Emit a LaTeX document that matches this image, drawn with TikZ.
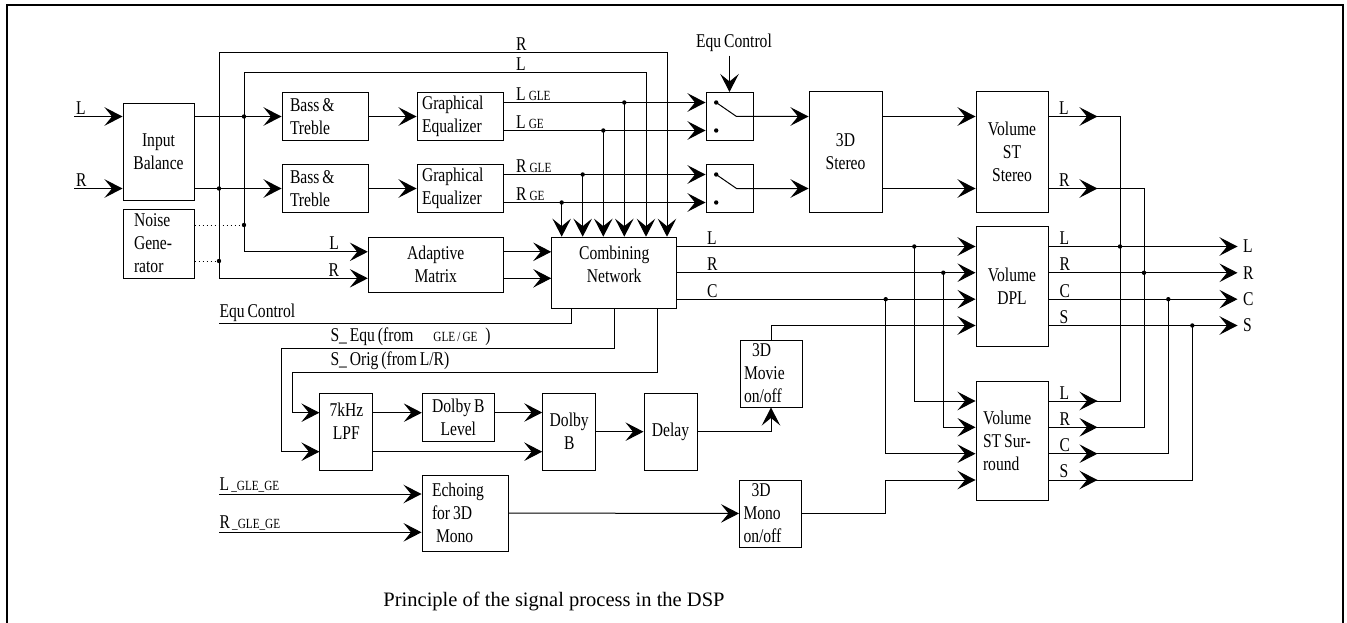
\documentclass[tikz,border=0pt]{standalone}
\usepackage{fontspec}
\setmainfont[FakeStretch=0.8, WordSpace=0.75]{Liberation Serif}
\newfontfamily\capfont{Liberation Serif}
\usetikzlibrary{arrows.meta,positioning,calc}
\newcommand{\subtxt}[1]{{\fontsize{14}{16}\selectfont #1}}

\begin{document}
\begin{tikzpicture}[x=1pt, y=-1pt, line width=1pt,
    every node/.style={font=\fontsize{19.5}{23}\selectfont},
    blk/.style={draw, inner sep=1pt, align=center},
    lft/.style={blk, align=flush left, text width=#1},
    arr/.style={-{Stealth[length=18pt,width=18.5pt,inset=7.5pt]}},
    lbl/.style={inner sep=1.5pt, anchor=south west},
    dots/.style={dash pattern=on 1.5pt off 2.5pt},
]
\useasboundingbox (0,0) rectangle (1347,623);
\draw[line width=1.2pt] (7,623) -- (7,5) -- (1343,5) -- (1343,623);

% blocks
\node[blk, minimum width=71, minimum height=96] (ib) at (158.5,152) {Input\\Balance};
\node[lft=49, minimum width=71, minimum height=69] (ng) at (158.5,243.5) {Noise\\Gene-\\rator};
\node[lft=70, minimum width=86, minimum height=48] (bt1) at (325,116.5) {Bass \&\\Treble};
\node[lft=70, minimum width=86, minimum height=48] (bt2) at (325,188.5) {Bass \&\\Treble};
\node[lft=76, minimum width=86, minimum height=48] (ge1) at (460,116.5) {Graphical\\Equalizer};
\node[lft=76, minimum width=86, minimum height=48] (ge2) at (460,188.5) {Graphical\\Equalizer};
\node[blk, minimum width=47, minimum height=48] (sw1) at (729.5,116.5) {};
\node[blk, minimum width=47, minimum height=48] (sw2) at (729.5,188.5) {};
\node[blk, minimum width=73, minimum height=120] (st3d) at (845.5,152) {3D\\Stereo};
\node[blk, minimum width=72, minimum height=120] (vst) at (1012,152) {Volume\\ST\\Stereo};
\node[blk, minimum width=72, minimum height=120] (vdpl) at (1012,286) {Volume\\DPL};
\node[lft=58, minimum width=72, minimum height=119] (vsur) at (1012,440.5) {Volume\\ST Sur-\\round};
\node[blk, minimum width=135, minimum height=55] (am) at (435.8,264.8) {Adaptive\\Matrix};
\node[blk, minimum width=125, minimum height=71, text depth=16pt] (cn) at (614.2,272.7) {Combining\\Network};
\node[blk, minimum width=53, minimum height=77, text depth=20pt] (lpf) at (346.4,431.7) {7kHz\\LPF};
\node[blk, minimum width=72, minimum height=48] (dbl) at (458.3,417.5) {Dolby B\\Level};
\node[blk, minimum width=53, minimum height=77] (db) at (569.2,431.7) {Dolby\\B};
\node[blk, minimum width=53, minimum height=77] (dly) at (670.5,431.7) {Delay};
\node[lft=54, minimum width=62, minimum height=67] (mov) at (771,373.5) {\hspace*{8pt}3D\\Movie\\on/off};
\node[lft=54, minimum width=62, minimum height=67] (mono) at (770.5,513.5) {\hspace*{8pt}3D\\Mono\\on/off};
\node[lft=66, minimum width=86, minimum height=76] (echo) at (465,513) {Echoing\\for 3D\\\hspace*{4pt}Mono};

% labels
\node[lbl] (inLl) at (74,116.5) {L};
\node[lbl] (inRl) at (74,188.5) {R};
\node[lbl] (tRl) at (514,53) {R};
\node[lbl] (tLl) at (514,73) {L};
\node[lbl] (lg1) at (514,102.5) {L\,\subtxt{GLE}};
\node[lbl] (lg2) at (514,130.5) {L\,\subtxt{GE}};
\node[lbl] (rg1) at (514,174.5) {R\,\subtxt{GLE}};
\node[lbl] (rg2) at (514,202.5) {R\,\subtxt{GE}};
\node (eqc) at (734,43) {Equ Control};
\node[lbl, anchor=south east] (amLl) at (341,251.8) {L};
\node[lbl, anchor=south east] (amRl) at (341,278.3) {R};
\node[lbl] (cnLl) at (705,246.5) {L};
\node[lbl] (cnRl) at (705,272.7) {R};
\node[lbl] (cnCl) at (705,299.2) {C};
\node[lbl] (vsLl) at (1057,116.5) {L};
\node[lbl] (vsRl) at (1057,188.5) {R};
\node[lbl, inner xsep=0] (eqcl) at (219,323.3) {Equ Control};
\node[lbl] (seql) at (328.5,347.7) {S\_ Equ (from\hspace{20pt}\subtxt{GLE / GE}\hspace{8pt})};
\node[lbl] (sorl) at (328.5,371.7) {S\_ Orig (from L/R)};
\node[lbl, inner xsep=0] (lggl) at (219,494) {L\subtxt{\,\_GLE\_GE}};
\node[lbl, inner xsep=0] (rggl) at (219,532.3) {R\subtxt{\,\_GLE\_GE}};
\node[font=\capfont\fontsize{20.5}{24}\selectfont] (capt) at (554,601) {Principle of the signal process in the DSP};

% junctions and ports
\coordinate (jL) at (244,116.5);
\coordinate (jR) at (219,188.5);
\coordinate (kL) at (646,73);
\coordinate (kR) at (667,53);
\coordinate (jLg) at (624.3,102.5);
\coordinate (jLe) at (603.3,130.5);
\coordinate (jRg) at (582.7,174.5);
\coordinate (jRe) at (561.7,202.5);
\coordinate (jCL) at (914.3,246.5);
\coordinate (jCR) at (943.3,272.7);
\coordinate (jCC) at (885.7,299.2);
\coordinate (oL) at (1120,246.5);
\coordinate (oR) at (1144,272.8);
\coordinate (oC) at (1168.3,299.2);
\coordinate (oS) at (1192.3,325.5);
\coordinate (ge1a) at ([yshift=14pt]ge1.east);
\coordinate (ge1b) at ([yshift=-14pt]ge1.east);
\coordinate (ge2a) at ([yshift=14pt]ge2.east);
\coordinate (ge2b) at ([yshift=-14pt]ge2.east);
\coordinate (amiL) at ([yshift=13pt]am.west);
\coordinate (amiR) at ([yshift=-13.5pt]am.west);
\coordinate (amoL) at ([yshift=13pt]am.east);
\coordinate (amoR) at ([yshift=-13.5pt]am.east);
\coordinate (ngA) at ([yshift=18.5pt]ng.east);
\coordinate (ngB) at ([yshift=-17.5pt]ng.east);
\coordinate (cnL) at ([yshift=26.2pt]cn.east);
\coordinate (cnC) at ([yshift=-26.5pt]cn.east);
\coordinate (cnE) at ([xshift=-43.2pt]cn.south);
\coordinate (cnO) at ([xshift=43.5pt]cn.south);
\coordinate (lpfA) at ([yshift=19pt]lpf.west);
\coordinate (lpfB) at ([yshift=-20pt]lpf.west);
\coordinate (lpfC) at ([yshift=19pt]lpf.east);
\coordinate (lpfD) at ([yshift=-20pt]lpf.east);
\coordinate (lpfE) at ([xshift=-38.3pt,yshift=-20pt]lpf.west);
\coordinate (lpfF) at ([xshift=-26.7pt,yshift=19pt]lpf.west);
\coordinate (dblo) at ([yshift=5pt]dbl.east);
\foreach \n/\s in {L/39.5, R/13.2, C/-13.2, S/-39.5} {
  \coordinate (dpi\n) at ([yshift=\s pt]vdpl.west);
  \coordinate (dpo\n) at ([yshift=\s pt]vdpl.east);
  \coordinate (sui\n) at ([yshift=\s pt]vsur.west);
  \coordinate (suo\n) at ([yshift=\s pt]vsur.east);
  \node[lbl] (dl\n) at ([xshift=9pt,yshift=\s pt]vdpl.east) {\n};
  \node[lbl] (sl\n) at ([xshift=9pt,yshift=\s pt]vsur.east) {\n};
}

% input stage
\draw[arr] (inLl.south west) -- (inLl.south west -| ib.west);
\draw[arr] (inRl.south west) -- (inRl.south west -| ib.west);
\draw[arr] (ib.east |- bt1) -- (bt1);
\draw[arr] (ib.east |- bt2) -- (bt2);
\draw[arr] (bt1) -- (ge1);
\draw[arr] (bt2) -- (ge2);
\draw[arr] (jL) |- (kL) -- (kL |- cn.north);
\draw[arr] (jR) |- (kR) -- (kR |- cn.north);
\draw[arr] (jL) |- (amiL);
\draw[arr] (jR) |- (amiR);
\draw[dots] (ngA) -- (ngA -| jL);
\draw[dots] (ngB) -- (ngB -| jR);
\fill (ngA -| jL) circle (2.2pt);
\fill (ngB -| jR) circle (2.2pt);
\draw[arr] (amoL) -- (amoL -| cn.west);
\draw[arr] (amoR) -- (amoR -| cn.west);
\foreach \p in {ge1a,ge1b,ge2a,ge2b}
  \draw[arr] (\p) -- (\p -| sw1.west);
\foreach \j in {jLg,jLe,jRg,jRe}
  \draw[arr] (\j) -- (\j |- cn.north);

% switches
\foreach \s in {sw1,sw2} {
  \fill ([xshift=10.7pt,yshift=14pt]\s.west) circle (2.2pt);
  \fill ([xshift=10.7pt,yshift=-14pt]\s.west) circle (2.2pt);
  \draw[arr] ([xshift=10.7pt,yshift=14pt]\s.west) -- ([xshift=31pt]\s.west) -- (\s -| st3d.west);
  \draw[arr] (\s -| st3d.east) -- (\s -| vst.west);
}
\draw[arr] (eqc.south -| sw1.north) -- (sw1.north);

% outputs
\draw (sw1 -| vst.east) -| (oL);
\draw[arr] (sw1 -| vst.east) -- ++(49,0);
\draw (sw2 -| vst.east) -| (oR);
\draw[arr] (sw2 -| vst.east) -- ++(49,0);
\draw[arr] (cnL) -- (cnL -| vdpl.west);
\draw[arr] (cn.east) -- (cn.east -| vdpl.west);
\draw[arr] (cnC) -- (cnC -| vdpl.west);
\draw[arr] (jCL) |- (suiL);
\draw[arr] (jCR) |- (suiR);
\draw[arr] (jCC) |- (suiC);
\draw[arr] (mov.north) |- (dpiS);
\draw[arr] (mono.east) -- (mono.east -| jCC) |- (suiS);
\foreach \n in {L,R,C,S} {
  \draw[arr] (dpo\n) -- ++(189,0) node[right, inner sep=5pt] (out\n) {\n};
  \draw[arr] (suo\n) -- ++(49,0);
  \draw (suo\n) -| (o\n);
}
\foreach \j in {jL,jR,jLg,jLe,jRg,jRe,jCL,jCR,jCC,oL,oR,oC,oS}
  \fill (\j) circle (2.2pt);

% surround path
\draw (eqcl.south west) -| (cnE);
\draw[arr] (cn.south) -- ++(0,39.4) -| (lpfE) -- (lpfB);
\draw[arr] (cnO) -- ++(0,63.4) -| (lpfF) -- (lpfA);
\draw[arr] (lpfC) -- (lpfC -| dbl.west);
\draw[arr] (dblo) -- (dblo -| db.west);
\draw[arr] (lpfD) -- (lpfD -| db.west);
\draw[arr] (db) -- (dly);
\draw[arr] (dly.east) -| (mov.south);
\draw[arr] (lggl.south west) -- (lggl.south west -| echo.west);
\draw[arr] (rggl.south west) -- (rggl.south west -| echo.west);
\draw[arr] (echo) -- (mono);
\end{tikzpicture}
\end{document}
